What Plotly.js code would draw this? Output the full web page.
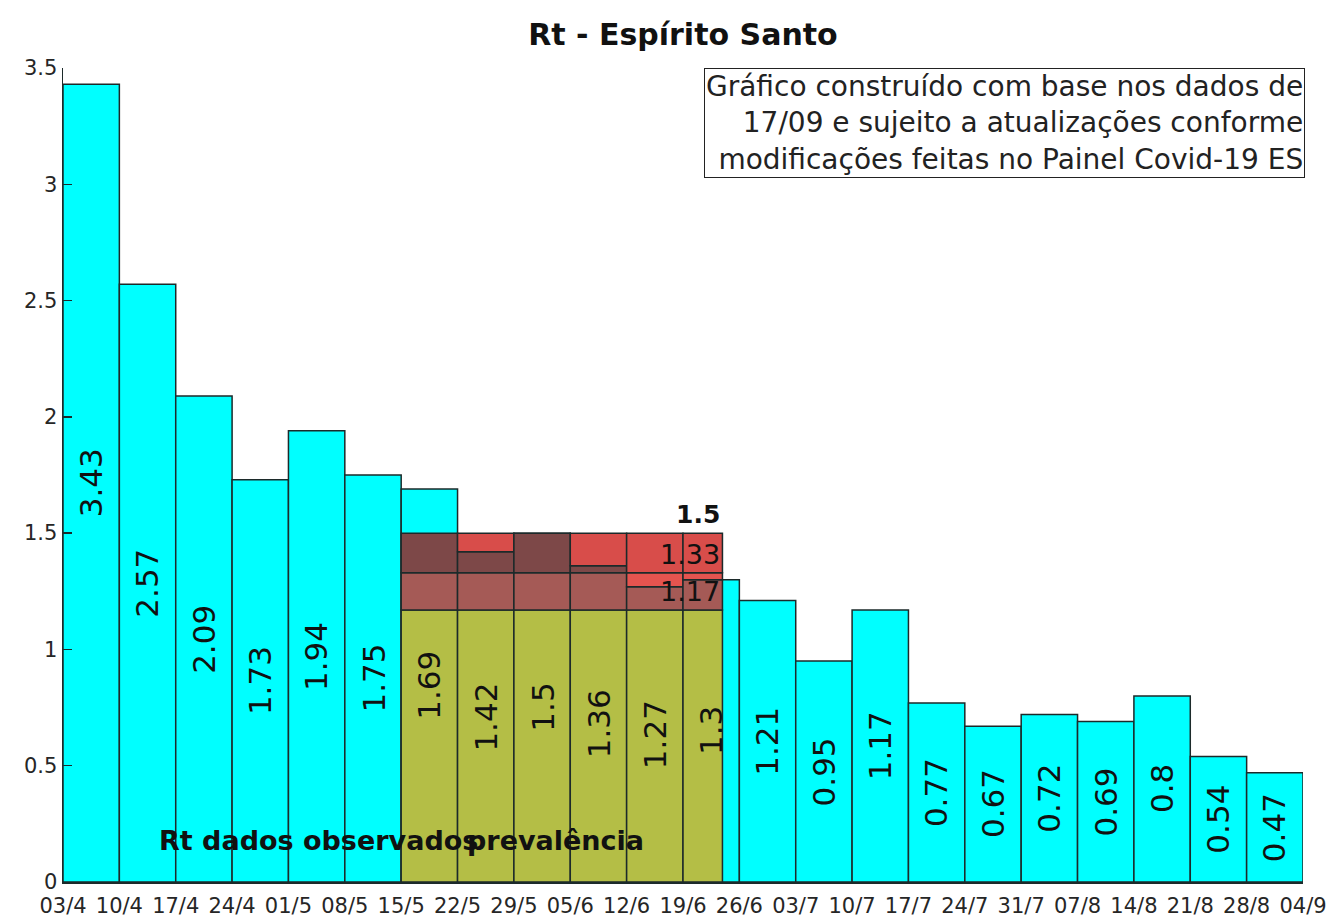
<!DOCTYPE html>
<html>
<head>
<meta charset="utf-8">
<script src="https://cdn.plot.ly/plotly-3.0.1.min.js"></script>
<style>html,body{margin:0;padding:0;background:#fff;}#chart{width:1330px;height:920px;}</style>
</head>
<body>
<div id="chart"></div>
<script>
// ---- data ----
const dateTicks = ['03/4','10/4','17/4','24/4','01/5','08/5','15/5','22/5','29/5','05/6','12/6','19/6','26/6','03/7','10/7','17/7','24/7','31/7','07/8','14/8','21/8','28/8','04/9'];
const rtValues = [3.43,2.57,2.09,1.73,1.94,1.75,1.69,1.42,1.5,1.36,1.27,1.3,1.21,0.95,1.17,0.77,0.67,0.72,0.69,0.8,0.54,0.47];
const prevalenceLevels = [1.17, 1.33, 1.5];
const prevalenceLabels = ['1.17', '1.33', '1.5'];
const yTicks = [0, 0.5, 1, 1.5, 2, 2.5, 3, 3.5];
const yTickText = ['0', '0.5', '1', '1.5', '2', '2.5', '3', '3.5'];
const titleText = 'Rt - Espírito Santo';
const noteText = 'Gráfico construído com base nos dados de<br>17/09 e sujeito a atualizações conforme<br>modificações feitas no Painel Covid-19 ES';
const legendObserved = 'Rt dados observados';
const legendPrevalence = 'prevalência';

// ---- styling / layout constants ----
const overlayStart = 6;     // 15/5
const overlayEnd = 11.7;    // ~24/6
const edge = '#1c2a2a';
const cyan = '#00ffff';
const olive = '#b4be46';
const bandColors = [
  {over: '#a55a56', free: '#e5544f'},   // 1.17 - 1.33
  {over: '#7d4848', free: '#d84d4a'}    // 1.33 - 1.5
];
const fontFam = '"DejaVu Sans", Verdana, sans-serif';

const n = rtValues.length;
const centers = rtValues.map((v, i) => i + 0.5);

const traces = [];
traces.push({
  type: 'bar', x: centers, y: rtValues, width: 1,
  marker: {color: cyan, line: {color: edge, width: 1.5}, opacity: 1},
  hoverinfo: 'skip', showlegend: false
});

// overlay cells
const cells = [];
for (let i = 0; i < n; i++) {
  const a = Math.max(i, overlayStart), b = Math.min(i + 1, overlayEnd);
  if (b > a) cells.push({a, b, v: rtValues[i]});
}
traces.push({
  type: 'bar',
  x: cells.map(c => (c.a + c.b) / 2),
  width: cells.map(c => c.b - c.a),
  y: cells.map(() => prevalenceLevels[0]),
  base: 0,
  marker: {color: olive, line: {color: edge, width: 1.5}, opacity: 1},
  hoverinfo: 'skip', showlegend: false
});

for (let j = 0; j < prevalenceLevels.length - 1; j++) {
  const lo = prevalenceLevels[j], hi = prevalenceLevels[j + 1];
  const xs = [], ws = [], ys = [], bs = [], cs = [];
  cells.forEach(c => {
    if (c.v > lo) {
      const top = Math.min(c.v, hi);
      xs.push((c.a + c.b) / 2); ws.push(c.b - c.a); bs.push(lo); ys.push(top - lo); cs.push(bandColors[j].over);
    }
    if (c.v < hi) {
      const bot = Math.max(c.v, lo);
      xs.push((c.a + c.b) / 2); ws.push(c.b - c.a); bs.push(bot); ys.push(hi - bot); cs.push(bandColors[j].free);
    }
  });
  traces.push({
    type: 'bar', x: xs, width: ws, y: ys, base: bs,
    marker: {color: cs, line: {color: edge, width: 1.5}, opacity: 1},
    hoverinfo: 'skip', showlegend: false
  });
}

const annotations = [];
rtValues.forEach((v, i) => {
  annotations.push({
    x: i + 0.5, y: v / 2, xref: 'x', yref: 'y', text: String(v),
    textangle: -90, showarrow: false,
    font: {family: fontFam, size: 31, color: '#111'}
  });
});
prevalenceLevels.forEach((lv, k) => {
  const isTop = k === prevalenceLevels.length - 1;
  annotations.push({
    x: overlayEnd, y: lv + 0.08, xref: 'x', yref: 'y', text: isTop ? '<b>' + prevalenceLabels[k] + '</b>' : prevalenceLabels[k],
    xanchor: 'right', yanchor: 'middle', showarrow: false,
    font: {family: fontFam, size: isTop ? 25 : 27, color: '#111'}
  });
});
annotations.push({
  x: 1.67, y: 0.18, xref: 'x', yref: 'y', text: '<b>' + legendObserved + '</b>',
  xanchor: 'left', yanchor: 'middle', showarrow: false,
  font: {family: fontFam, size: 27, color: '#111'}
});
annotations.push({
  x: 7.13, y: 0.18, xref: 'x', yref: 'y', text: '<b>' + legendPrevalence + '</b>',
  xanchor: 'left', yanchor: 'middle', showarrow: false,
  font: {family: fontFam, size: 27, color: '#111'}
});
annotations.push({
  x: 1.002, y: 1, xref: 'paper', yref: 'paper', text: noteText,
  xanchor: 'right', yanchor: 'top', align: 'right', showarrow: false,
  bordercolor: '#222', borderwidth: 1, borderpad: 1, bgcolor: '#fff',
  font: {family: fontFam, size: 28, color: '#222'}
});

const layout = {
  width: 1330, height: 920,
  margin: {l: 63, r: 27, t: 68, b: 38},
  paper_bgcolor: '#fff', plot_bgcolor: '#fff',
  barmode: 'overlay',
  bargap: 0,
  title: {text: titleText, x: 0.5135, xanchor: 'center', y: 0.962, yanchor: 'middle',
          font: {family: fontFam, size: 30, color: '#111', weight: 'bold'}},
  xaxis: {
    range: [0, n], tickvals: dateTicks.map((d, i) => i), ticktext: dateTicks,
    showgrid: false, zeroline: false, showline: true, linecolor: edge, linewidth: 1.5,
    ticks: '', ticklabelstandoff: 4,
    tickfont: {family: fontFam, size: 21, color: '#262626'}, fixedrange: true
  },
  yaxis: {
    range: [0, 3.5], tickvals: yTicks, ticktext: yTickText,
    showgrid: false, zeroline: false, showline: true, linecolor: edge, linewidth: 1.5,
    ticks: 'inside', ticklen: 9, tickcolor: edge, tickwidth: 1.5,
    tickfont: {family: fontFam, size: 21, color: '#262626'}, fixedrange: true
  },
  annotations: annotations,
  showlegend: false
};

Plotly.newPlot('chart', traces, layout, {displayModeBar: false, staticPlot: true});
</script>
</body>
</html>
